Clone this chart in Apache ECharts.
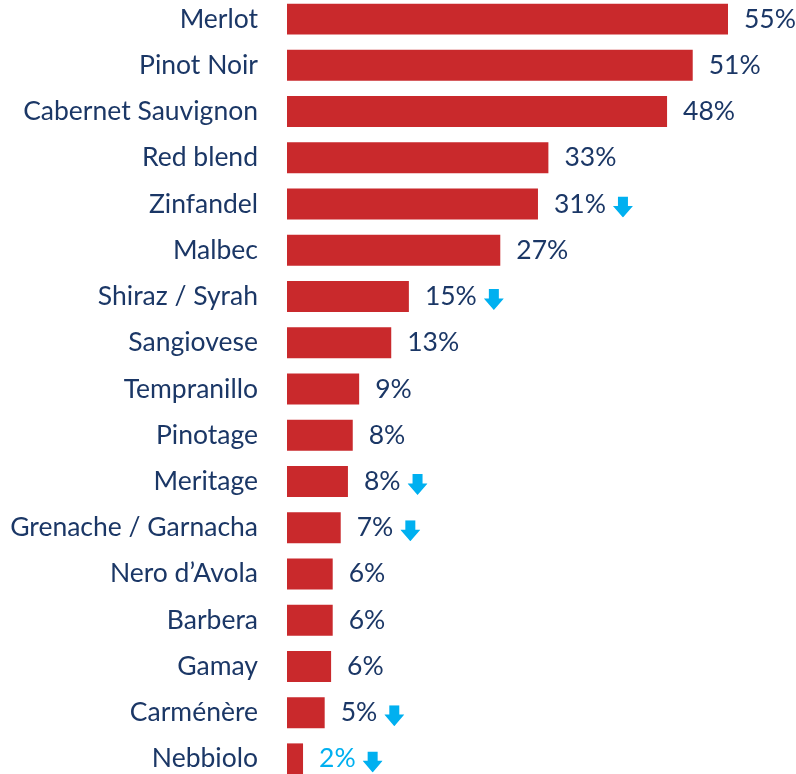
<!DOCTYPE html>
<html><head><meta charset="utf-8">
<script src="https://cdn.jsdelivr.net/npm/echarts@6/dist/echarts.min.js"></script>
<style>html,body{margin:0;padding:0;background:#fff;overflow:hidden}#c{position:absolute;left:0;top:-4px;width:796px;height:786px}</style>
</head><body><div id="c"></div>
<script>
const categories = ["Merlot","Pinot Noir","Cabernet Sauvignon","Red blend","Zinfandel","Malbec","Shiraz / Syrah","Sangiovese","Tempranillo","Pinotage","Meritage","Grenache / Garnacha","Nero d\u2019Avola","Barbera","Gamay","Carm\u00e9n\u00e8re","Nebbiolo"];
const values = [55, 50.6, 47.4, 32.6, 31.3, 26.6, 15.2, 13.0, 9.0, 8.2, 7.6, 6.7, 5.7, 5.7, 5.5, 4.7, 2.0];
const labels = ["55%","51%","48%","33%","31%","27%","15%","13%","9%","8%","8%","7%","6%","6%","6%","5%","2%"];
const declining = [false,false,false,false,true,false,true,false,false,false,true,true,false,false,false,true,true];
const highlightLabel = [false,false,false,false,false,false,false,false,false,false,false,false,false,false,false,false,true];

const arrowSvg = 'data:image/svg+xml;charset=utf-8,' + encodeURIComponent(
  '<svg xmlns="http://www.w3.org/2000/svg" width="20" height="20" viewBox="0 0 20 20">' +
  '<polygon points="5,0 15,0 15,9 20,9 10,20 0,9 5,9" fill="#00b0f0"/></svg>');

const navy = '#1b3766';
const fontFam = 'Lato';
const fs = 26.5;
const chart = echarts.init(document.getElementById('c'));
chart.setOption({
  animation: false,
  grid: {left: 287, right: 68, top: 0, bottom: 0, containLabel: false},
  xAxis: {type: 'value', min: 0, max: 55, show: false},
  yAxis: {
    type: 'category', data: categories, inverse: true,
    axisLine: {show: false}, axisTick: {show: false}, splitLine: {show: false},
    axisLabel: {color: navy, fontSize: fs, fontFamily: fontFam, margin: 29}
  },
  series: [{
    type: 'bar',
    data: values,
    barCategoryGap: '33%',
    itemStyle: {color: '#c9292c'},
    label: {
      show: true, position: 'right', distance: 16,
      formatter: function (p) {
        const i = p.dataIndex;
        const txt = '{' + (highlightLabel[i] ? 'hv' : 'v') + '|' + labels[i] + '}';
        return declining[i] ? txt + '{s|}{a|}' : txt;
      },
      rich: {
        v: {color: navy, fontSize: fs, fontFamily: fontFam},
        hv: {color: '#00b0f0', fontSize: fs, fontFamily: fontFam},
        s: {width: 7, height: 20},
        a: {width: 20, height: 21, verticalAlign: 'bottom', backgroundColor: {image: arrowSvg}}
      }
    }
  }]
});
</script></body></html>
